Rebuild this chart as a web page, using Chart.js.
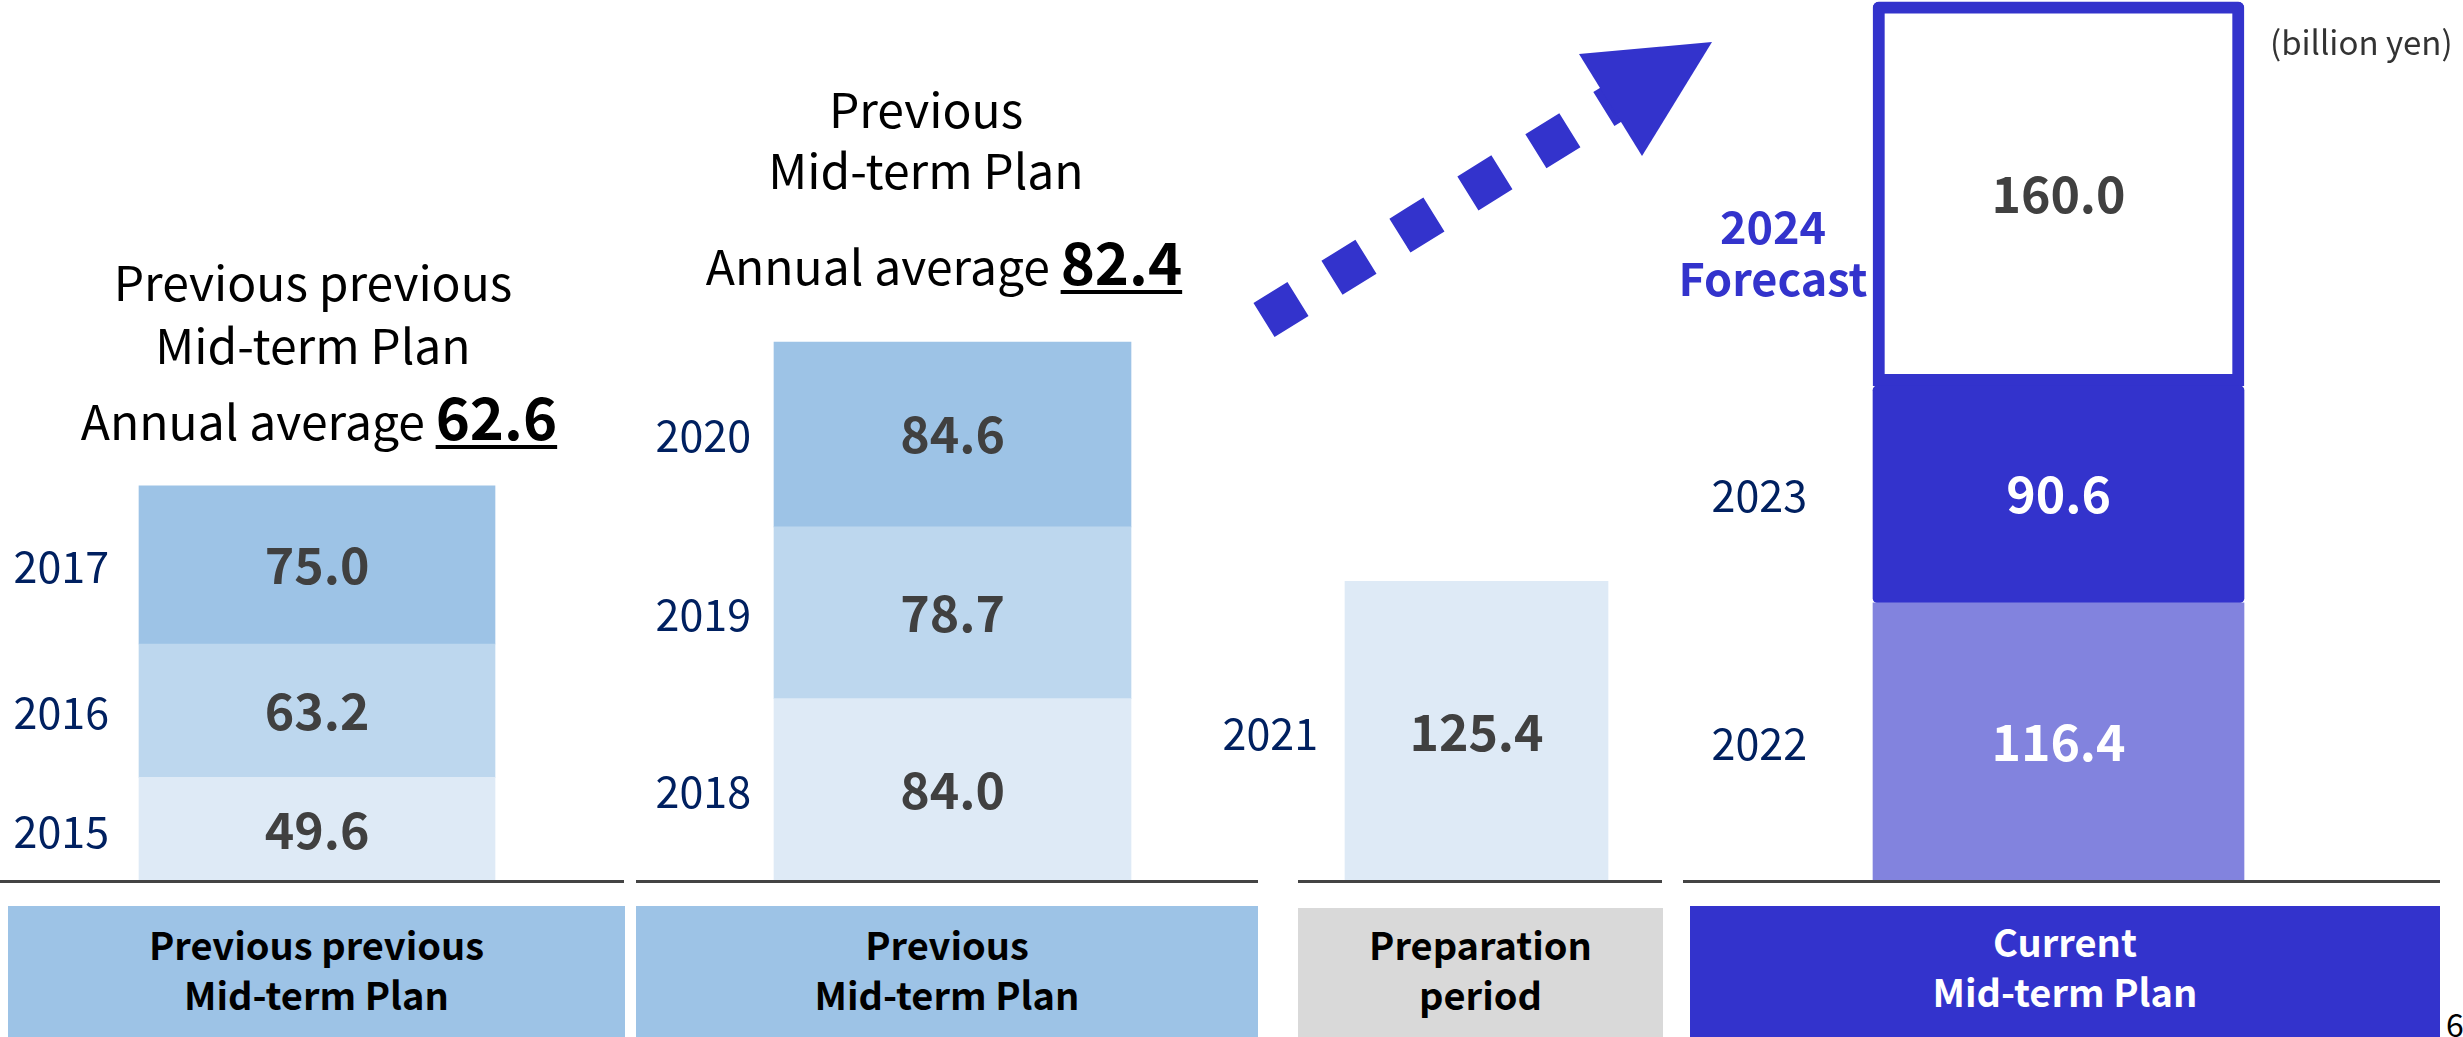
<!DOCTYPE html>
<html>
<head>
<meta charset="utf-8">
<script src="https://cdn.jsdelivr.net/npm/chart.js@4.4.1/dist/chart.umd.min.js"></script>
<style>
    html, body {
        margin: 0;
        padding: 0;
        width: 2463px;
        height: 1037px;
        overflow: hidden;
        background: #fff;
        font-family: "Noto Sans CJK JP", "Noto Sans", sans-serif;
    }
    .panel { position: absolute; top: 0; height: 882px; }
    .title {
        position: absolute;
        font-size: 48px;
        line-height: 52px;
        color: #000;
        white-space: nowrap;
        transform: translateX(-50%);
    }
    .title b {
        font-size: 58px;
        text-decoration: underline;
        text-decoration-thickness: 4px;
        text-underline-offset: 5px;
    }
    .base { position: absolute; top: 880px; height: 3px; background: #444; }
    .box {
        position: absolute;
        height: 140px;
        font-weight: bold;
        font-size: 38px;
        line-height: 50px;
        text-align: center;
        box-sizing: border-box;
        color: #000;
    }
    .unit { position: absolute; left: 2270px; top: 17px; font-size: 33px; color: #333; }
    .page { position: absolute; left: 2446px; top: 1000px; font-size: 32px; color: #000; }
</style>
</head>
<body>

<div class="panel" style="left:0px;width:634px"><canvas id="chart_pp" width="634" height="882"></canvas></div>
<div class="panel" style="left:640px;width:625px"><canvas id="chart_prev" width="625" height="882"></canvas></div>
<div class="panel" style="left:1200px;width:553px"><canvas id="chart_prep" width="553" height="882"></canvas></div>
<div class="panel" style="left:1660px;width:797px"><canvas id="chart_cur" width="797" height="882"></canvas></div>

<!-- titles above the first two bars -->
<div class="title" style="left:313px;top:254px">Previous previous</div>
<div class="title" style="left:313px;top:317px">Mid-term Plan</div>
<div class="title" style="left:319px;top:389px">Annual average <b id="avg0"></b></div>
<div class="title" style="left:926px;top:81px">Previous</div>
<div class="title" style="left:926px;top:142px">Mid-term Plan</div>
<div class="title" style="left:944px;top:234px">Annual average <b id="avg1"></b></div>

<!-- baseline pieces -->
<div class="base" style="left:0px;width:624px"></div>
<div class="base" style="left:636px;width:622px"></div>
<div class="base" style="left:1298px;width:364px"></div>
<div class="base" style="left:1683px;width:757px"></div>

<!-- period boxes -->
<div class="box" style="left:8px;width:617px;top:906px;padding-top:13px;background:#9DC3E6">Previous previous<br>Mid-term Plan</div>
<div class="box" style="left:636px;width:622px;top:906px;padding-top:13px;background:#9DC3E6">Previous<br>Mid-term Plan</div>
<div class="box" style="left:1298px;width:365px;top:908px;padding-top:11px;background:#D9D9D9">Preparation<br>period</div>
<div class="box" style="left:1690px;width:750px;top:906px;padding-top:10px;background:#3333CC;color:#fff">Current<br>Mid-term Plan</div>

<div class="unit">(billion yen)</div>
<div class="page">6</div>

<!-- dashed arrow -->
<svg style="position:absolute;left:0;top:0" width="2463" height="1037">
    <line x1="1264" y1="320" x2="1612" y2="104" stroke="#3333CC" stroke-width="40" stroke-dasharray="40 40"/>
    <polygon points="1579,54 1712,42 1642,156" fill="#3333CC"/>
</svg>

<script>
// *** data ***
var yearsPP = ['2015', '2016', '2017'];
var valuesPP = [49.6, 63.2, 75.0];
var yearsPrev = ['2018', '2019', '2020'];
var valuesPrev = [84.0, 78.7, 84.6];
var yearsPrep = ['2021'];
var valuesPrep = [125.4];
var yearsCur = ['2022', '2023', '2024'];
var valuesCur = [116.4, 90.6, 160.0];
var annualAverages = [62.6, 82.4];

// scale top for each panel
var axisMax = [418, 404, 367.8, 367.8];

document.getElementById('avg0').textContent = annualAverages[0].toFixed(1);
document.getElementById('avg1').textContent = annualAverages[1].toFixed(1);

var FONT = '"Noto Sans CJK JP", "Noto Sans", sans-serif';

// value inside each block + year on the left
var segLabels = {
    id: 'segLabels',
    afterDatasetsDraw(chart, args, options) {
        var ctx = chart.ctx;
        chart.data.datasets.forEach(function (ds, i) {
            var bar = chart.getDatasetMeta(i).data[0];
            var p = bar.getProps(['x', 'y', 'base', 'width'], true);
            var cy = (p.y + p.base) / 2;
            var left = p.x - p.width / 2;
            ctx.save();
            ctx.textBaseline = 'alphabetic';

            ctx.textAlign = 'center';
            ctx.font = 'bold 50px ' + FONT;
            ctx.fillStyle = ds.valueColor || '#404040';
            ctx.fillText(ds.data[0].toFixed(1), p.x, cy + 19);

            if (ds.forecast) {
                ctx.font = 'bold 45px ' + FONT;
                ctx.fillStyle = '#3333CC';
                ctx.fillText(ds.label, left - 100, cy + 50);
                ctx.fillText('Forecast', left - 100, cy + 102);
            } else {
                ctx.textAlign = 'right';
                ctx.font = '43px ' + FONT;
                ctx.fillStyle = '#002060';
                ctx.fillText(ds.label, left - options.gap, cy + 18);
            }
            ctx.restore();
        });
    }
};

function makeOptions(max, gap) {
    return {
        responsive: false,
        animation: false,
        layout: { padding: 0 },
        plugins: {
            legend: { display: false },
            tooltip: { enabled: false },
            segLabels: { gap: gap }
        },
        scales: {
            x: { stacked: true, display: false },
            y: { stacked: true, display: false, min: 0, max: max }
        }
    };
}

function makeDatasets(years, values, colors, thickness) {
    return years.map(function (y, i) {
        return {
            label: y,
            data: [values[i]],
            backgroundColor: colors[i],
            borderWidth: 0,
            barThickness: thickness
        };
    });
}

// *** Previous previous Mid-term Plan ***
var ctx1 = document.getElementById('chart_pp').getContext('2d');
var chartPP = new Chart(ctx1, {
    type: 'bar',
    data: {
        labels: [''],
        datasets: makeDatasets(yearsPP, valuesPP, ['#DEEAF6', '#BDD7EE', '#9DC3E6'], 356)
    },
    options: makeOptions(axisMax[0], 30),
    plugins: [segLabels]
});

// *** Previous Mid-term Plan ***
var ctx2 = document.getElementById('chart_prev').getContext('2d');
var chartPrev = new Chart(ctx2, {
    type: 'bar',
    data: {
        labels: [''],
        datasets: makeDatasets(yearsPrev, valuesPrev, ['#DEEAF6', '#BDD7EE', '#9DC3E6'], 357)
    },
    options: makeOptions(axisMax[1], 23),
    plugins: [segLabels]
});

// *** Preparation period ***
var ctx3 = document.getElementById('chart_prep').getContext('2d');
var chartPrep = new Chart(ctx3, {
    type: 'bar',
    data: {
        labels: [''],
        datasets: makeDatasets(yearsPrep, valuesPrep, ['#DEEAF6'], 263)
    },
    options: makeOptions(axisMax[2], 27),
    plugins: [segLabels]
});

// *** Current Mid-term Plan ***
var curSets = makeDatasets(yearsCur, valuesCur, ['#8283DE', '#3333CC', '#FFFFFF'], 371);
curSets[0].valueColor = '#FFFFFF';
curSets[1].valueColor = '#FFFFFF';
curSets[1].borderRadius = { topLeft: 5, topRight: 5, bottomLeft: 5, bottomRight: 5 };
curSets[1].borderSkipped = false;
curSets[2].borderColor = '#3333CC';
curSets[2].borderWidth = 12;
curSets[2].borderSkipped = false;
curSets[2].borderRadius = { topLeft: 6, topRight: 6, bottomLeft: 0, bottomRight: 0 };
curSets[2].forecast = true;

var ctx4 = document.getElementById('chart_cur').getContext('2d');
var chartCur = new Chart(ctx4, {
    type: 'bar',
    data: {
        labels: [''],
        datasets: curSets
    },
    options: makeOptions(axisMax[3], 66),
    plugins: [segLabels]
});
</script>
</body>
</html>
